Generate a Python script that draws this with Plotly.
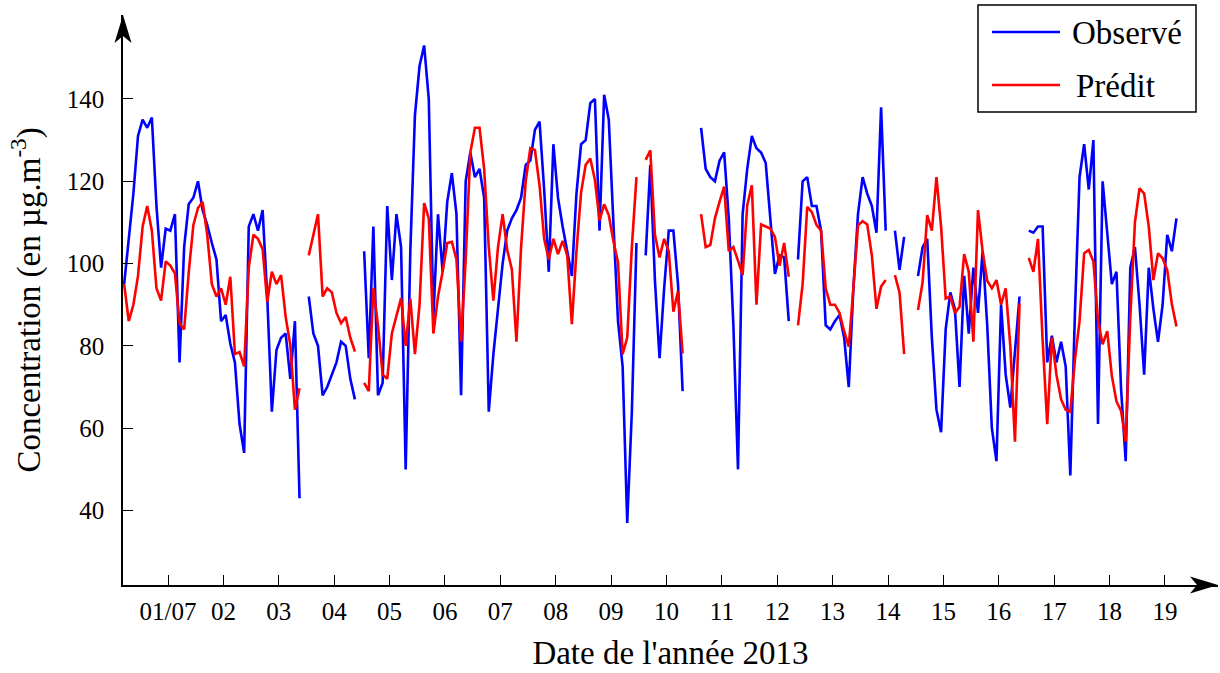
import plotly.graph_objects as go
import pandas as pd

# Two-hourly ozone concentrations (µg/m3), 30 June 05:00 -> 19 July 05:00, 2013
times = pd.date_range("2013-06-30 05:00", periods=229, freq="2h")

N = None
observe = [
    95, 106, 117, 131, 135, 133, 135.5, 114, 99, 108.5, 108, 112, 76, 104, 114.5, 116,
    120, 113, 109.4, 105, 101, 86, 87.5, 80.5, 76, 61, 54, 109, 112, 108, 113, 92,
    64, 79, 82, 83, 72, 86, 43, N, 92, 83, 80, 68, 70, 73, 76, 81,
    80, 72, 67, N, 103, 77, 109, 68, 71, 114, 96, 112, 104, 50, 103, 136,
    148, 153, 140, 87, 112, 98, 115, 122, 112, 68, 120, 127, 121, 123, 116, 64,
    78, 89, 100, 108, 111, 113, 116, 124, 125, 132.5, 134.5, 118, 98, 129, 116, 109,
    103, 97, 117, 129, 130, 139, 140, 108, 141, 135, 110, 86, 75, 37, 64, 105,
    N, 102, 124, 96, 77, 94, 108, 108, 95, 69, N, N, N, 133, 123, 121,
    120, 125, 127, 111, 85, 50, 112, 123, 131, 128, 127, 124.5, 110, 97.5, 102, 101.5,
    86, N, 101, 120, 121, 114, 114, 108, 85, 84, 86, 87.5, 82, 70, 94, 112,
    121, 117, 114, 107.5, 138, 108, N, 108, 98.5, 106.5, N, N, 97, 104, 106, 82,
    64.5, 59, 84, 93, 89, 70, 97, 83, 99, 88, 103, 85, 60, 52, 90, 73,
    65, 79, 92, N, 108, 107.5, 109, 109, 76, 82.5, 76, 81, 75, 48.5, 88, 121,
    129, 118, 130, 61, 120, 107, 95, 98, 69.5, 52, 99, 104, 90, 73, 99, 89,
    81, 90, 107, 103, 111,
]
predit = [
    95, 86, 90, 97, 109, 114, 108, 94, 91, 100.5, 99.5, 97.6, 85.5, 84, 98, 109.4,
    113.5, 115, 107, 95, 92, 94, 90, 96.8, 78, 78.5, 75, 99, 107, 106, 103.5, 90.7,
    98, 95, 97.2, 87, 80.2, 64.5, 69.7, N, 102, 107, 112, 92, 94, 93, 88, 85.5,
    87, 82, 78.6, N, 71, 69, 94, 85, 73, 72, 83, 87.5, 91.6, 80, 91.5, 78,
    90, 114.7, 111, 83, 92, 98, 105, 105.3, 101, 81, 101, 127, 133, 133, 123, 104,
    91, 104, 112, 103.3, 98.6, 81, 104, 120, 128, 127.6, 119, 106, 101, 106, 102.3, 105.5,
    102, 85.3, 103, 117.3, 124, 125.5, 120.3, 110.5, 114.4, 111.8, 105.5, 100.3, 78, 82, 104, 121,
    N, 125.2, 127.5, 107, 101.5, 106, 103, 88.3, 93.3, 78.2, N, N, N, 112, 104, 104.5,
    111, 115, 118.7, 103, 104, 100.7, 97.2, 114.2, 119, 90, 109.5, 109, 108.5, 106.5, 99.5, 105,
    96.8, N, 85, 95, 113.8, 112.5, 109.4, 108, 94, 90, 90, 88, 83.5, 79.8, 94, 109.3,
    110.3, 109.5, 102, 89, 94.4, 96, N, 97.2, 93, 78, N, N, 88.7, 95.5, 111.8, 108,
    121, 109, 91.5, 92, 88, 89.5, 102.3, 98, 81, 113, 103, 95.8, 94, 96, 90, 94,
    80, 56.7, 90.3, N, 101.4, 98, 106, 81.4, 61, 82, 73, 67, 64.5, 64, 76.6, 86,
    102.5, 103.3, 100.5, 86.3, 80.4, 83.6, 72.7, 66.5, 64.2, 56.7, 87, 110, 118.3, 117, 109, 96,
    102.5, 101.3, 98.4, 90.2, 84.7,
]

day_ticks = pd.date_range("2013-07-01", "2013-07-19", freq="D")
day_labels = ["01/07"] + [f"{d.day:02d}" for d in day_ticks[1:]]
conc_ticks = [40, 60, 80, 100, 120, 140]

SERIF = "Liberation Serif"
W, H = 1220, 673
ML, MR, MT, MB = 123, 2, 15, 88
PW, PH = W - ML - MR, H - MT - MB


def px(x):
    return (x - ML) / PW


def py(y):
    return (H - MB - y) / PH


fig = go.Figure()
fig.add_trace(go.Scatter(x=times, y=observe, mode="lines", name="Observé",
                         line=dict(color="#0000ff", width=2.6)))
fig.add_trace(go.Scatter(x=times, y=predit, mode="lines", name="Prédit",
                         line=dict(color="#ff0000", width=2.6)))

axis_common = dict(
    showline=True, linecolor="black", linewidth=1.6,
    ticks="inside", ticklen=10, tickwidth=1, tickcolor="black",
    showgrid=False, zeroline=False, automargin=False,
    tickfont=dict(family=SERIF, size=25, color="black"),
)
fig.update_xaxes(type="date", range=["2013-06-30 04:30", "2013-07-19 23:00"],
                 tickvals=day_ticks, ticktext=day_labels, ticklabelstandoff=3,
                 title=dict(text="Date de l'année 2013", standoff=17,
                            font=dict(family=SERIF, size=33, color="black")),
                 **axis_common)
fig.update_yaxes(range=[21.9, 160.4], tickvals=conc_ticks,
                 ticktext=[str(v) for v in conc_ticks], ticklabelstandoff=12,
                 title=dict(text="Concentration (en µg.m<sup>-3</sup>)", standoff=16,
                            font=dict(family=SERIF, size=33, color="black")),
                 **axis_common)

shapes = []
# arrow heads at the end of each axis
shapes.append(dict(type="path", xref="paper", yref="paper", layer="above",
                   path=f"M {px(123)} {py(15)} L {px(114.5)} {py(43)} L {px(123)} {py(36)} "
                        f"L {px(131.5)} {py(43)} Z",
                   fillcolor="black", line=dict(width=0)))
shapes.append(dict(type="path", xref="paper", yref="paper", layer="above",
                   path=f"M {px(1218)} {py(585)} L {px(1190)} {py(576.5)} L {px(1197)} {py(585)} "
                        f"L {px(1190)} {py(593.5)} Z",
                   fillcolor="black", line=dict(width=0)))
# legend frame and samples
shapes.append(dict(type="rect", xref="paper", yref="paper", layer="above",
                   x0=px(978), x1=px(1196), y0=py(112), y1=py(5),
                   fillcolor="white", line=dict(color="black", width=1.5)))
shapes.append(dict(type="line", xref="paper", yref="paper", layer="above",
                   x0=px(992), x1=px(1060), y0=py(32), y1=py(32),
                   line=dict(color="#0000ff", width=2.6)))
shapes.append(dict(type="line", xref="paper", yref="paper", layer="above",
                   x0=px(992), x1=px(1060), y0=py(85), y1=py(85),
                   line=dict(color="#ff0000", width=2.6)))

annotations = [
    dict(text="Observé", xref="paper", yref="paper", x=px(1070), y=py(33),
         xanchor="left", yanchor="middle", showarrow=False,
         font=dict(family=SERIF, size=33, color="black")),
    dict(text="Prédit", xref="paper", yref="paper", x=px(1074), y=py(86),
         xanchor="left", yanchor="middle", showarrow=False,
         font=dict(family=SERIF, size=33, color="black")),
]

fig.update_layout(
    width=W, height=H,
    margin=dict(l=ML, r=MR, t=MT, b=MB),
    paper_bgcolor="white", plot_bgcolor="white",
    showlegend=False,
    shapes=shapes, annotations=annotations,
)

fig.write_html("out.html")
